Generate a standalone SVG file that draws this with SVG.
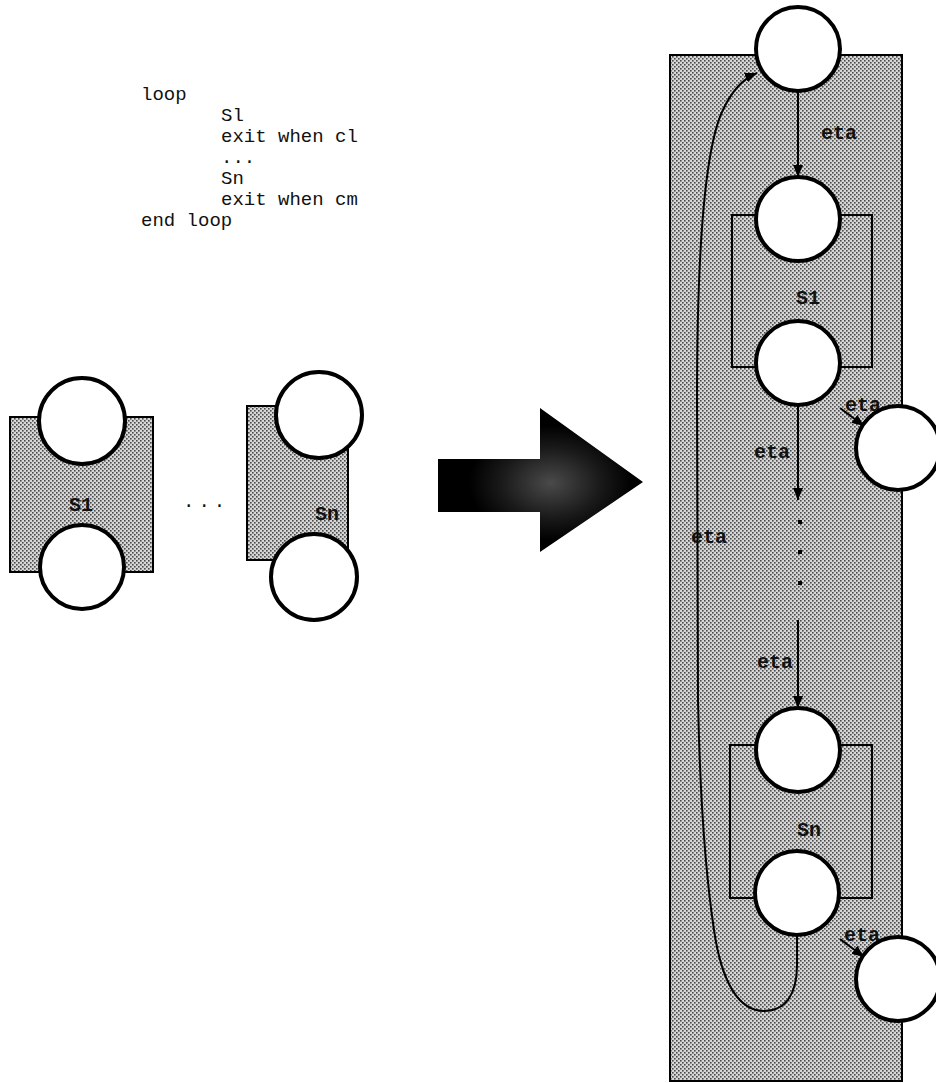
<svg xmlns="http://www.w3.org/2000/svg" width="936" height="1083" viewBox="0 0 936 1083">
<defs>
<pattern id="ht" width="4" height="4" patternUnits="userSpaceOnUse">
<rect width="4" height="4" fill="#d6d6d6"/>
<rect x="0" y="0" width="1.6" height="1.6" fill="#4a4a4a"/>
<rect x="2" y="2" width="1.6" height="1.6" fill="#4a4a4a"/>
</pattern>
<radialGradient id="speck" cx="0.55" cy="0.52" r="0.4">
<stop offset="0" stop-color="#4a4a4a"/>
<stop offset="0.6" stop-color="#1a1a1a"/>
<stop offset="1" stop-color="#000"/>
</radialGradient>
<marker id="ah" viewBox="0 0 12 10" refX="12" refY="5" markerWidth="12" markerHeight="10" markerUnits="userSpaceOnUse" orient="auto">
<path d="M0,0 L12,5 L0,10 z" fill="#000"/>
</marker>
</defs>
<style>
.code{font-family:"Liberation Mono",monospace;font-size:19px;fill:#111}
.lbl{font-family:"Liberation Mono",monospace;font-size:20px;font-weight:bold;fill:#111;text-anchor:middle}
.box{fill:url(#ht);stroke:#000;stroke-width:2}
.pl{fill:#fff;stroke:#000;stroke-width:4}
.edge{fill:none;stroke:#000;stroke-width:2}
</style>

<g id="code">
<text class="code" x="141" y="100">loop</text>
<text class="code" x="221" y="121">Sl</text>
<text class="code" x="221" y="142">exit when cl</text>
<text class="code" x="221" y="163">...</text>
<text class="code" x="221" y="184">Sn</text>
<text class="code" x="221" y="205">exit when cm</text>
<text class="code" x="141" y="226">end loop</text>
</g>

<g id="left-S1">
<rect class="box" x="10" y="417" width="143" height="155"/>
<circle class="pl" cx="82" cy="421" r="43"/>
<circle class="pl" cx="82" cy="567" r="42"/>
<text class="lbl" x="81" y="511">S1</text>
</g>
<g id="left-dots">
<text class="code" x="183" y="507" style="letter-spacing:4px">...</text>
</g>
<g id="left-Sn">
<rect class="box" x="247" y="406" width="101" height="154"/>
<circle class="pl" cx="319" cy="415" r="43"/>
<circle class="pl" cx="314" cy="577" r="43"/>
<text class="lbl" x="327" y="520">Sn</text>
</g>

<g id="big-arrow">
<polygon points="438,459 540,459 540,408 643,482 540,552 540,512 438,512" fill="url(#speck)"/>
</g>

<g id="loop-panel">
<rect class="box" x="670" y="55" width="232" height="1026"/>
</g>
<g id="S1-box">
<rect class="box" x="732" y="215" width="140" height="152"/>
<text class="lbl" x="808" y="304">S1</text>
</g>
<g id="Sn-box">
<rect class="box" x="730" y="745" width="142" height="153"/>
<text class="lbl" x="809" y="836">Sn</text>
</g>

<g id="connectors">
<line class="edge" x1="798" y1="91" x2="798" y2="177" marker-end="url(#ah)"/>
<line class="edge" x1="798" y1="405" x2="798" y2="500" marker-end="url(#ah)"/>
<line class="edge" x1="798" y1="620" x2="798" y2="708" marker-end="url(#ah)"/>
<line class="edge" x1="840" y1="408" x2="864" y2="426" marker-end="url(#ah)"/>
<line class="edge" x1="840" y1="939" x2="864" y2="957" marker-end="url(#ah)"/>
<path class="edge" d="M797 936 L797 965 C797 995 785 1011 764 1011 C740 1011 722 985 714 930 C705 870 700 800 698 700 L697 400 C697 250 705 150 722 112 C730 94 740 80 757 73" marker-end="url(#ah)"/>
<rect x="798" y="520" width="4" height="4" fill="#000"/>
<rect x="798" y="550" width="4" height="4" fill="#000"/>
<rect x="798" y="581" width="4" height="4" fill="#000"/>
<text class="lbl" x="839" y="139">eta</text>
<text class="lbl" x="772" y="458">eta</text>
<text class="lbl" x="775" y="668">eta</text>
<text class="lbl" x="709" y="543">eta</text>
<text class="lbl" x="863" y="411">eta</text>
<text class="lbl" x="862" y="941">eta</text>
</g>

<g id="p-top"><circle class="pl" cx="798" cy="49" r="42"/></g>
<g id="p-S1-in"><circle class="pl" cx="798" cy="219" r="42"/></g>
<g id="p-S1-out"><circle class="pl" cx="798" cy="363" r="42"/></g>
<g id="p-exit1"><circle class="pl" cx="898" cy="448" r="42"/></g>
<g id="p-Sn-in"><circle class="pl" cx="798" cy="750" r="42"/></g>
<g id="p-Sn-out"><circle class="pl" cx="797" cy="893" r="42"/></g>
<g id="p-exit2"><circle class="pl" cx="898" cy="979" r="42"/></g>
</svg>
